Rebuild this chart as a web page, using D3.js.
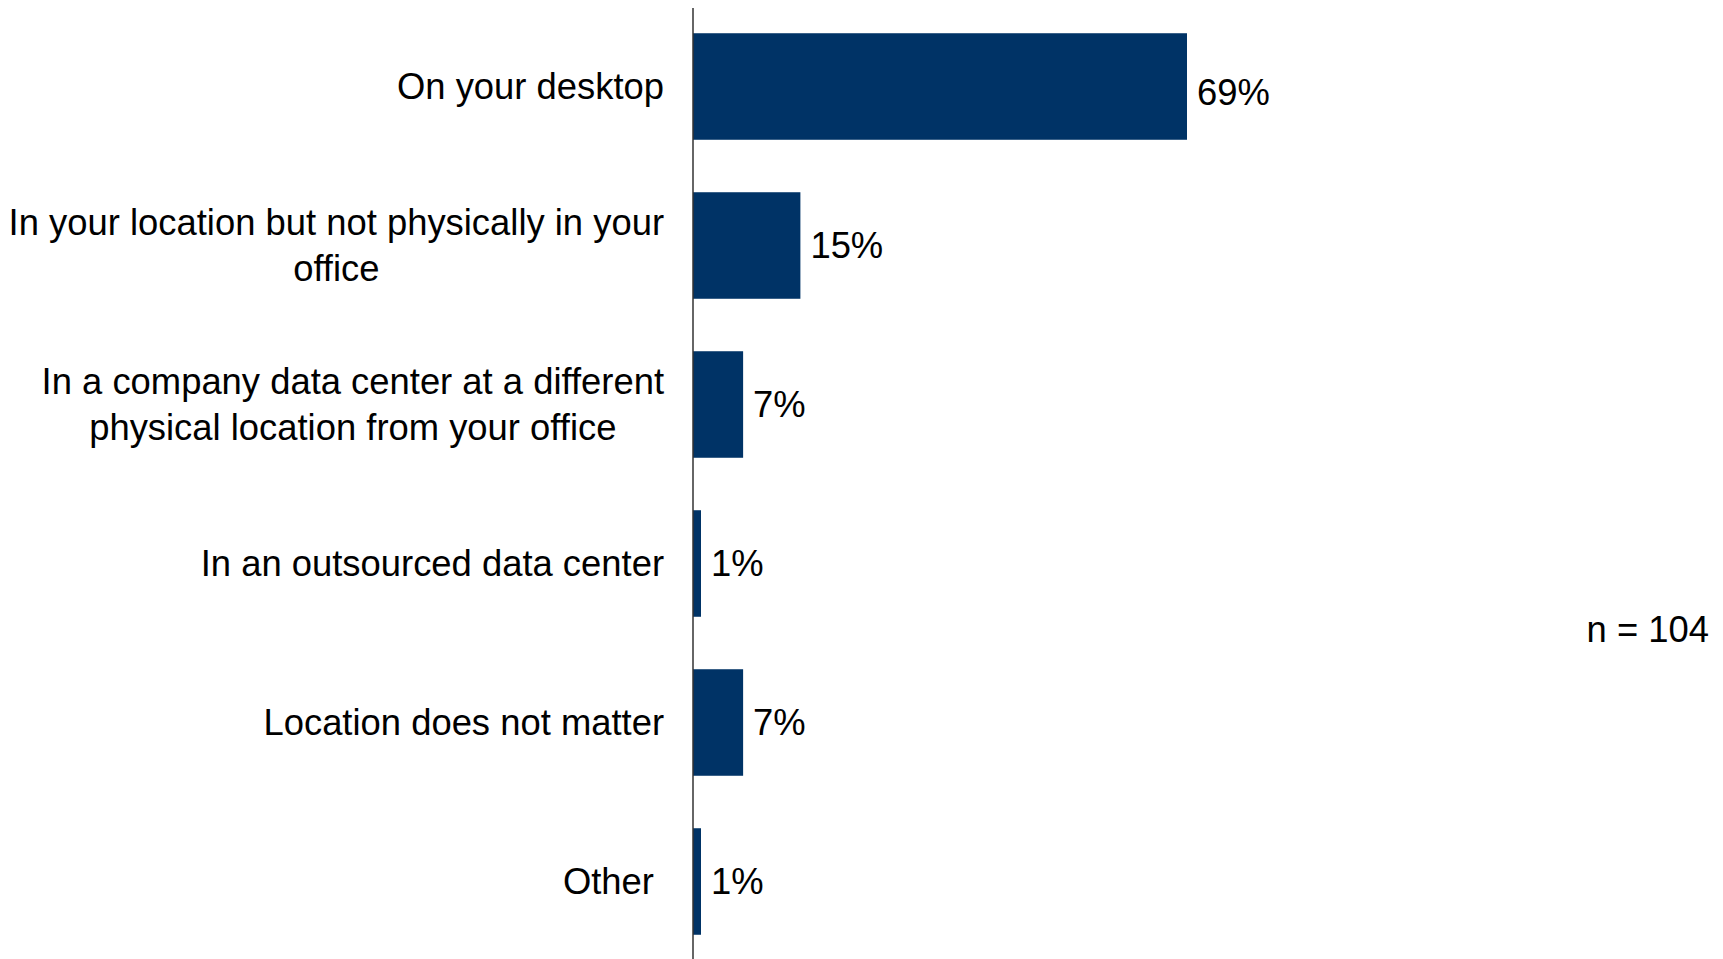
<!DOCTYPE html>
<html>
<head>
<meta charset="utf-8">
<script src="https://cdn.jsdelivr.net/npm/d3@7"></script>
<style>
  html, body { margin: 0; padding: 0; background: #fff; }
  text { font-family: "Liberation Sans", Arial, sans-serif; fill: #000; }
</style>
</head>
<body>
<div id="chart"></div>
<script>
// categories, each split into the lines shown on the chart
var categories = [
    ["On your desktop"],
    ["In your location but not physically in your", "office"],
    ["In a company data center at a different", "physical location from your office"],
    ["In an outsourced data center"],
    ["Location does not matter"],
    ["Other "]
]
var values = [69, 15, 7, 1, 7, 1]
var sampleNote = "n = 104"

var W = 1723, H = 959
var axisX = 693
var fontSize = 36.4

var svg = d3.select("#chart")
    .append("svg")
    .attr("width", W)
    .attr("height", H)

var data = categories.map(function (c, i) { return { lines: c, value: values[i], id: i } })

// y band: one band per category
var y = d3.scaleBand()
    .domain(data.map(function (d) { return d.id }))
    .range([7, 961])
    .paddingInner(0.33)
    .paddingOuter(0.165)

// x scale: percent -> pixels
var x = d3.scaleLinear()
    .domain([0, 69])
    .range([axisX, 1187])

// bars
svg.append("g")
    .selectAll("rect")
    .data(data)
    .enter().append("rect")
    .attr("x", x(0))
    .attr("y", function (d) { return y(d.id) })
    .attr("width", function (d) { return Math.max(x(d.value) - x(0), 8) })
    .attr("height", y.bandwidth())
    .attr("fill", "#003366")

// value labels
svg.append("g")
    .selectAll("text")
    .data(data)
    .enter().append("text")
    .attr("x", function (d) { return Math.max(x(d.value), x(0) + 8) + 10 })
    .attr("y", function (d, i) { return y(d.id) + y.bandwidth() / 2 + (i == 0 ? 6 : 0) })
    .attr("dy", "0.35em")
    .style("font-size", fontSize + "px")
    .text(function (d) { return d.value + "%" })

// category labels (multi-line, centred block, right aligned)
var lineH = 46
var labelRight = 664
var lab = svg.append("g")
    .selectAll("g")
    .data(data)
    .enter().append("g")

lab.each(function (d) {
    var g = d3.select(this)
    var cy = y(d.id) + y.bandwidth() / 2
    var n = d.lines.length
    var t = g.append("text")
        .style("font-size", fontSize + "px")
        .style("white-space", "pre")
        .attr("text-anchor", "middle")
    d.lines.forEach(function (l, i) {
        t.append("tspan")
            .attr("x", 0)
            .attr("y", cy + (i - (n - 1) / 2) * lineH)
            .attr("dy", "0.35em")
            .text(l)
    })
    var w = t.node().getBBox().width
    t.attr("transform", "translate(" + (labelRight - w / 2) + ",0)")
})

// vertical axis line
svg.append("line")
    .attr("x1", axisX)
    .attr("x2", axisX)
    .attr("y1", 8)
    .attr("y2", H)
    .attr("stroke", "#333")
    .attr("stroke-width", 1.5)

// sample size note
svg.append("text")
    .attr("x", 1709)
    .attr("y", 629)
    .attr("dy", "0.35em")
    .attr("text-anchor", "end")
    .style("font-size", fontSize + "px")
    .text(sampleNote)
</script>
</body>
</html>
